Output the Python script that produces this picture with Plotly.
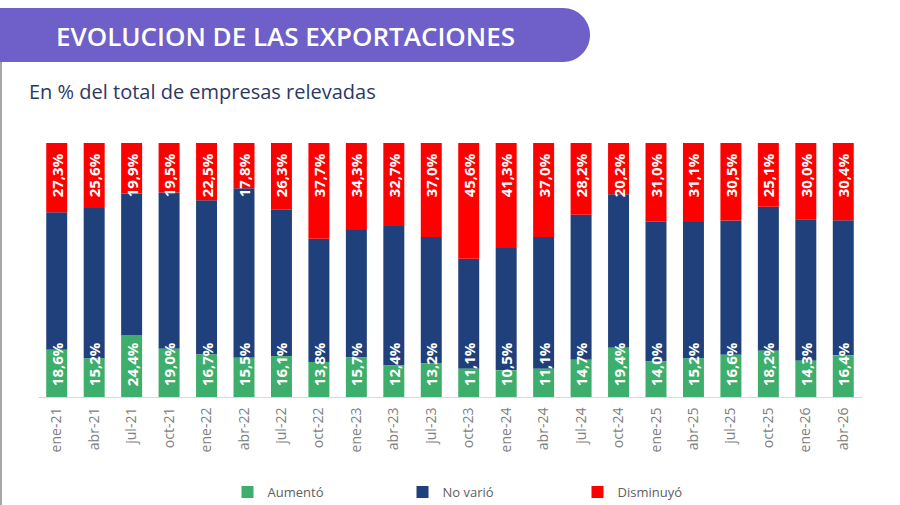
import plotly.graph_objects as go

categorias = ["ene-21", "abr-21", "jul-21", "oct-21", "ene-22", "abr-22", "jul-22", "oct-22",
              "ene-23", "abr-23", "jul-23", "oct-23", "ene-24", "abr-24", "jul-24", "oct-24",
              "ene-25", "abr-25", "jul-25", "oct-25", "ene-26", "abr-26"]
aumento = [18.6, 15.2, 24.4, 19.0, 16.7, 15.5, 16.1, 13.8, 15.7, 12.4, 13.2, 11.1,
           10.5, 11.1, 14.7, 19.4, 14.0, 15.2, 16.6, 18.2, 14.3, 16.4]
no_vario = [54.1, 59.2, 55.7, 61.5, 60.8, 66.7, 57.6, 48.5, 50.0, 54.9, 49.8, 43.3,
            48.2, 51.9, 57.1, 60.4, 55.0, 53.7, 52.9, 56.7, 55.7, 53.2]
disminuyo = [27.3, 25.6, 19.9, 19.5, 22.5, 17.8, 26.3, 37.7, 34.3, 32.7, 37.0, 45.6,
             41.3, 37.0, 28.2, 20.2, 31.0, 31.1, 30.5, 25.1, 30.0, 30.4]

C_GREEN = "#3DAE6B"
C_NAVY = "#1F407A"
C_RED = "#FF0000"

W, H = 900, 505
ML, MR, MT, MB = 38, 38, 143, 108
PW = W - ML - MR
PH = H - MT - MB


def fx(x):
    return (x - ML) / PW


def fy(y):
    return (H - MB - y) / PH


def fmt(v):
    return f"{v:.1f}%".replace(".", ",")


PAD = "\u00a0\u00a0"
label_font = dict(family="Open Sans", size=15, color="white", weight="bold")

base_navy = list(aumento)
base_red = [a + n for a, n in zip(aumento, no_vario)]

fig = go.Figure()
fig.add_trace(go.Bar(
    x=categorias, y=no_vario, base=base_navy, name="No varió", legendrank=2,
    marker=dict(color=C_NAVY, line=dict(width=0)), hoverinfo="skip",
))
fig.add_trace(go.Bar(
    x=categorias, y=disminuyo, base=base_red, name="Disminuyó", legendrank=3,
    marker=dict(color=C_RED, line=dict(width=0)),
    text=[fmt(v) + PAD for v in disminuyo], textposition="inside", insidetextanchor="end",
    textangle=-90, constraintext="none", textfont=label_font, hoverinfo="skip",
))
fig.add_trace(go.Bar(
    x=categorias, y=aumento, base=[0] * len(aumento), name="Aumentó", legendrank=1,
    marker=dict(color=C_GREEN, line=dict(width=0)),
    text=[PAD + fmt(v) for v in aumento], textposition="inside", insidetextanchor="start",
    textangle=-90, constraintext="none", textfont=label_font, hoverinfo="skip",
))

# banner with rounded right end
k = 0.5523 * 27
ytop, ybot, ymid = 8, 62, 35
xr = 563
pts = [
    ("M", [(0, ytop)]),
    ("L", [(xr, ytop)]),
    ("C", [(xr + k, ytop), (590, ymid - k), (590, ymid)]),
    ("C", [(590, ymid + k), (xr + k, ybot), (xr, ybot)]),
    ("L", [(0, ybot)]),
]
path = ""
for cmd, coords in pts:
    path += cmd + " ".join(f"{fx(a):.5f},{fy(b):.5f}" for a, b in coords) + " "
path += "Z"

fig.update_layout(
    width=W, height=H,
    margin=dict(l=ML, r=MR, t=MT, b=MB, autoexpand=False),
    paper_bgcolor="white", plot_bgcolor="white",
    barmode="overlay", bargap=0.44,
    showlegend=True,
    legend=dict(orientation="h", x=fx(490), xanchor="center", y=fy(477), yanchor="top",
                font=dict(family="Open Sans", size=13, color="#606060"),
                entrywidth=130, entrywidthmode="pixels"),
    xaxis=dict(showline=True, linecolor="#D9D9D9", linewidth=1, ticks="",
               tickangle=-90, tickfont=dict(family="Open Sans", size=14, color="#808080"),
               showgrid=False, zeroline=False, fixedrange=True, automargin=False,
               ticklabelstandoff=4),
    yaxis=dict(range=[0, 100], visible=False, showgrid=False, zeroline=False, fixedrange=True),
    shapes=[
        dict(type="path", xref="paper", yref="paper", path=path,
             fillcolor="#6F5FC8", line=dict(width=0), layer="above"),
        dict(type="line", xref="paper", yref="paper", x0=fx(1), x1=fx(1), y0=fy(62), y1=fy(505),
             line=dict(color="#A6A6A6", width=2)),
    ],
    annotations=[
        dict(text="EVOLUCION DE LAS EXPORTACIONES", xref="paper", yref="paper",
             x=fx(54), y=fy(36), xanchor="left", yanchor="middle", showarrow=False,
             font=dict(family="Open Sans", size=26, color="white", weight=600)),
        dict(text="En % del total de empresas relevadas", xref="paper", yref="paper",
             x=fx(27), y=fy(92), xanchor="left", yanchor="middle", showarrow=False,
             font=dict(family="Open Sans", size=20, color="#2B3866", weight=500)),
    ],
)

fig.write_html("out.html")
